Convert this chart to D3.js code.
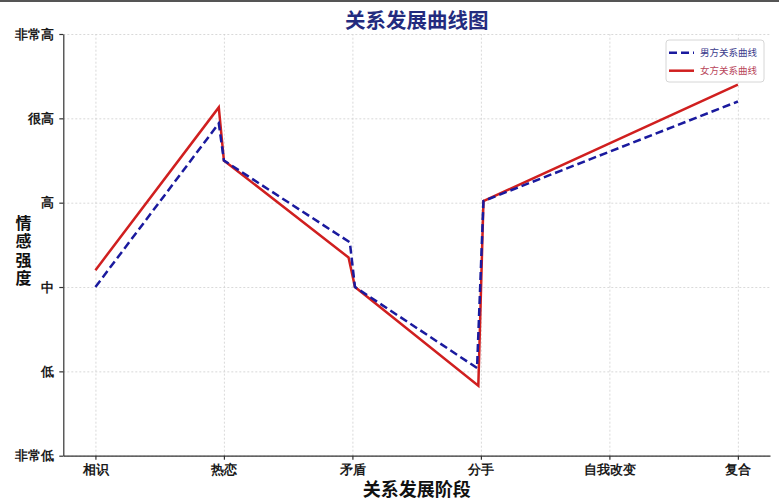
<!DOCTYPE html>
<html>
<head>
<meta charset="utf-8">
<script src="https://cdn.jsdelivr.net/npm/d3@7"></script>
<style>
    body { margin: 0; background: #fff; }
    svg { display: block; font-family: "Noto Sans CJK SC", "Noto Sans", sans-serif; }
    .grid line { stroke: #cfcfcf; stroke-dasharray: 2,2; stroke-width: 0.8; }
    .axis path, .axis line { stroke: #333; stroke-width: 1.2; }
    .axis text { font-size: 12.5px; font-weight: bold; fill: #1a1a1a; }
</style>
</head>
<body>
<div id="chart"></div>
<script>
// stages along the x axis and the feeling levels on the y axis
const stages = ['相识', '热恋', '矛盾', '分手', '自我改变', '复合'];
const levelLabels = ['非常低', '低', '中', '高', '很高', '非常高'];

// male curve (x in stage units, y in level units)
const maleX = [0, 0.96, 1.0, 1.98, 2.02, 2.97, 3.02, 5];
const maleY = [2.0, 3.94, 3.5, 2.53, 2.0, 1.04, 3.02, 4.2];

// female curve
const femaleX = [0, 0.96, 1.0, 1.97, 2.02, 2.98, 3.02, 5];
const femaleY = [2.2, 4.13, 3.5, 2.35, 2.0, 0.83, 3.02, 4.4];

const W = 779, H = 500;
const margin = { top: 34, right: 9, bottom: 44.3, left: 63.3 };
const width = W - margin.left - margin.right;
const height = H - margin.top - margin.bottom;

const svg = d3.select('#chart').append('svg')
    .attr('width', W)
    .attr('height', H);

// thin dark strip along the top edge of the picture
svg.append('rect').attr('x', 0).attr('y', 0).attr('width', W).attr('height', 2).attr('fill', '#555');

const g = svg.append('g')
    .attr('transform', `translate(${margin.left},${margin.top})`);

const x = d3.scaleLinear().domain([-0.25, 5.25]).range([0, width]);
const y = d3.scaleLinear().domain([0, 5]).range([height, 0]);

const stageIdx = d3.range(stages.length);
const levelIdx = d3.range(levelLabels.length);

// grid
g.append('g')
    .attr('class', 'grid')
    .attr('transform', `translate(0,${height})`)
    .call(d3.axisBottom(x).tickValues(stageIdx).tickSize(-height).tickFormat(''))
    .call(s => s.select('.domain').remove());

g.append('g')
    .attr('class', 'grid')
    .call(d3.axisLeft(y).tickValues(levelIdx).tickSize(-width).tickFormat(''))
    .call(s => s.select('.domain').remove());

// lines
const toPoints = (xs, ys) => xs.map((v, i) => [v, ys[i]]);
const line = d3.line().x(d => x(d[0])).y(d => y(d[1]));

const series = [
    { name: '女方关系曲线', pts: toPoints(femaleX, femaleY), color: '#d01f1f', dash: null, text: '#b8455a' },
    { name: '男方关系曲线', pts: toPoints(maleX, maleY), color: '#1a1a9e', dash: '8,4', text: '#3b3b8c' }
];

series.forEach(s => {
    g.append('path')
        .datum(s.pts)
        .attr('fill', 'none')
        .attr('stroke', s.color)
        .attr('stroke-width', 2.5)
        .attr('stroke-dasharray', s.dash)
        .attr('stroke-linejoin', 'miter')
        .attr('d', line);
});

// axes (left and bottom spines only)
g.append('g')
    .attr('class', 'axis')
    .attr('transform', `translate(0,${height})`)
    .call(d3.axisBottom(x).tickValues(stageIdx).tickSize(4).tickSizeOuter(0).tickPadding(4)
        .tickFormat(i => stages[i]))
    .call(s => s.selectAll('text').attr('dy', '0.8em'));

g.append('g')
    .attr('class', 'axis')
    .call(d3.axisLeft(y).tickValues(levelIdx).tickSize(4).tickSizeOuter(0).tickPadding(5)
        .tickFormat(i => levelLabels[i]));

// title
svg.append('text')
    .attr('x', margin.left + width / 2)
    .attr('y', 28)
    .attr('text-anchor', 'middle')
    .style('font-size', '20.5px')
    .style('font-weight', 'bold')
    .style('fill', '#232b7e')
    .text('关系发展曲线图');

// x axis title
svg.append('text')
    .attr('x', margin.left + width / 2)
    .attr('y', 496)
    .attr('text-anchor', 'middle')
    .style('font-size', '18px')
    .style('font-weight', 'bold')
    .style('fill', '#111')
    .text('关系发展阶段');

// y axis title, characters stacked vertically
svg.append('text')
    .attr('x', 23.5)
    .attr('y', 215)
    .style('writing-mode', 'vertical-rl')
    .style('text-orientation', 'upright')
    .style('letter-spacing', '2.3px')
    .style('font-size', '16px')
    .style('font-weight', 'bold')
    .style('fill', '#111')
    .text('情感强度');

// legend
const legend = svg.append('g').attr('transform', 'translate(666,40)');
legend.append('rect')
    .attr('width', 98)
    .attr('height', 42)
    .attr('rx', 3)
    .attr('fill', '#fff')
    .attr('fill-opacity', 0.85)
    .attr('stroke', '#d6d6d6');

const legendItems = legend.selectAll('.legend-item')
    .data(series.slice().reverse())
    .enter()
    .append('g')
    .attr('class', 'legend-item')
    .attr('transform', (d, i) => `translate(0,${12.7 + i * 18})`);

legendItems.append('line')
    .attr('x1', 3).attr('x2', 28)
    .attr('y1', 0).attr('y2', 0)
    .attr('stroke', d => d.color)
    .attr('stroke-width', 2.5)
    .attr('stroke-dasharray', d => d.dash);

legendItems.append('text')
    .attr('x', 34)
    .attr('y', 3.5)
    .style('font-size', '9.5px')
    .style('fill', d => d.text)
    .text(d => d.name);
</script>
</body>
</html>
